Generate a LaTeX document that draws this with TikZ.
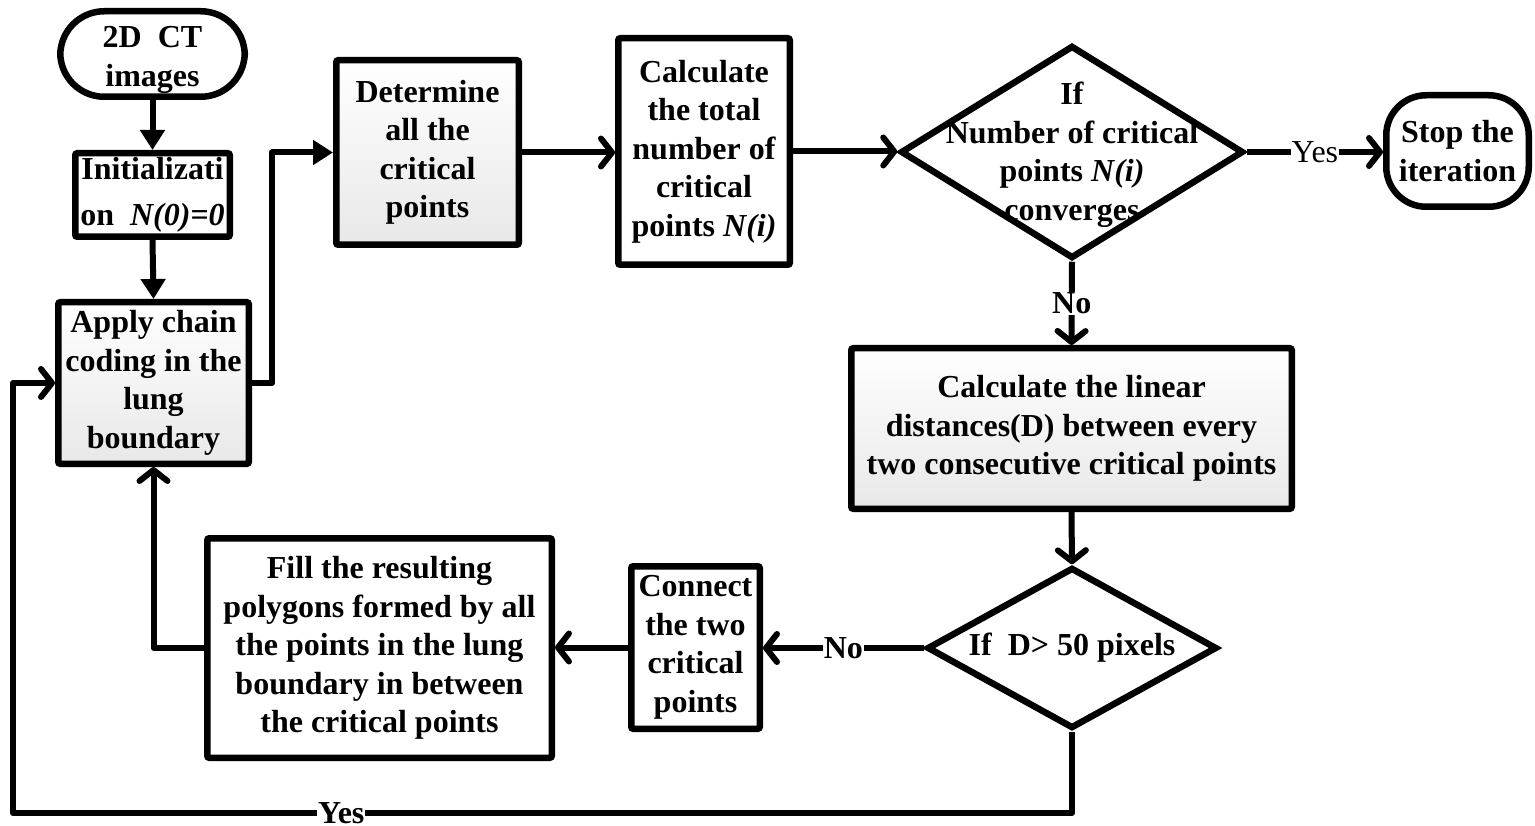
\documentclass[tikz,border=0pt]{standalone}
\usepackage{fontspec}
\setmainfont{Liberation Serif}[
  BoldFont={Liberation Serif Bold},
  ItalicFont={Liberation Serif Italic},
  BoldItalicFont={Liberation Serif Bold Italic}]
\usetikzlibrary{arrows.meta,shapes.geometric,shadows}
\begin{document}
\begin{tikzpicture}[x=1pt,y=-1pt,
  txt/.style={font=\fontsize{32}{38.5}\selectfont\bfseries, align=center},
  box/.style={txt, draw, line width=6.5pt, fill=white, inner sep=0pt, rounded corners=2pt},
  shadedbox/.style={box, top color=white, bottom color=black!9,
    drop shadow={shadow xshift=2.5pt, shadow yshift=-2.5pt, opacity=0.25}},
  term/.style={box, rounded corners=#1},
  decision/.style={draw, diamond, line width=6.5pt, inner sep=0pt, fill=white},
  flow/.style={line width=6pt, line join=round, -{Straight Barb[length=11pt,width=28pt,round]}},
  solidflow/.style={line width=6pt, line join=round, -{Triangle[length=20pt,width=24pt]}},
  lbl/.style={fill=white, inner sep=1pt, font=\fontsize{32}{38.5}\selectfont\bfseries},
]
\useasboundingbox (0,0) rectangle (1535,826);

% process steps
\node[term=44pt, minimum width=184.5pt, minimum height=85.5pt] (start) at (152.5,54) {};
\node[txt] at ([yshift=-6pt]start.center) {2D\ \ CT\\images};
\node[box, font=\fontsize{32}{46}\selectfont\bfseries, minimum width=154.5pt, minimum height=83.5pt] (init) at (152.5,195) {Initializati\\on\ \ \textit{N(0)=0}};
\node[shadedbox, minimum width=190.5pt, minimum height=161.5pt] (apply) at (153.5,383) {Apply chain\\coding in the\\lung\\boundary};
\node[shadedbox, minimum width=182.5pt, minimum height=184.5pt] (det) at (427.5,152.5) {Determine\\all the\\critical\\points};
\node[box, minimum width=171.5pt, minimum height=226.5pt] (calc) at (704,151.5) {Calculate\\the total\\number of\\critical\\points \textit{N(i)}};
\node[decision, minimum width=343pt, minimum height=213pt] (d1) at (1072,152) {};
\node[txt] at ([yshift=-3pt]d1.center) {If\\Number of critical\\points \textit{N(i)}\\converges};
\node[term=40pt, minimum width=142.5pt, minimum height=111.5pt] (stop) at (1457.5,151) {Stop the\\iteration};
\node[shadedbox, minimum width=440.5pt, minimum height=160.5pt] (lin) at (1071.5,428.5) {Calculate the linear\\distances(D) between every\\two consecutive critical points};
\node[decision, minimum width=290pt, minimum height=161pt] (d2) at (1072,648) {};
\node[txt] at (d2.center) {If\ \ D> 50 pixels};
\node[box, minimum width=128.5pt, minimum height=162.5pt] (conn) at (695.5,647.5) {Connect\\the two\\critical\\points};
\node[box, minimum width=344.5pt, minimum height=219.5pt] (fill) at (379.5,648) {Fill the resulting\\polygons formed by all\\the points in the lung\\boundary in between\\the critical points};

% connectors
\draw[solidflow] (start.south) -- (init.north);
\draw[solidflow] (init.south) -- (apply.north);
\draw[solidflow] (apply.east) -- ++(20,0) |- (det.west);
\draw[flow] (det.east) -- (det.east -| calc.west);
\draw[flow] (calc.east) -- (calc.east -| d1.west);
\draw[flow] (d1.east) -- node[lbl, font=\fontsize{32}{38.5}\selectfont\mdseries] {Yes} (d1.east -| stop.west);
\draw[flow] (d1.south) -- node[lbl] {No} (lin.north);
\draw[flow] (lin.south) -- (d2.north);
\draw[flow] (d2.west) -- node[lbl] {No} (d2.west -| conn.east);
\draw[flow] (conn.west) -- (conn.west -| fill.east);
\draw[flow] (fill.west) -| (apply.south);
\coordinate (bl) at (13,813);
\draw[flow] (d2.south) -- (d2.south |- bl) -- node[lbl, pos=0.69] {Yes} (bl) |- (apply.west);
\end{tikzpicture}
\end{document}
